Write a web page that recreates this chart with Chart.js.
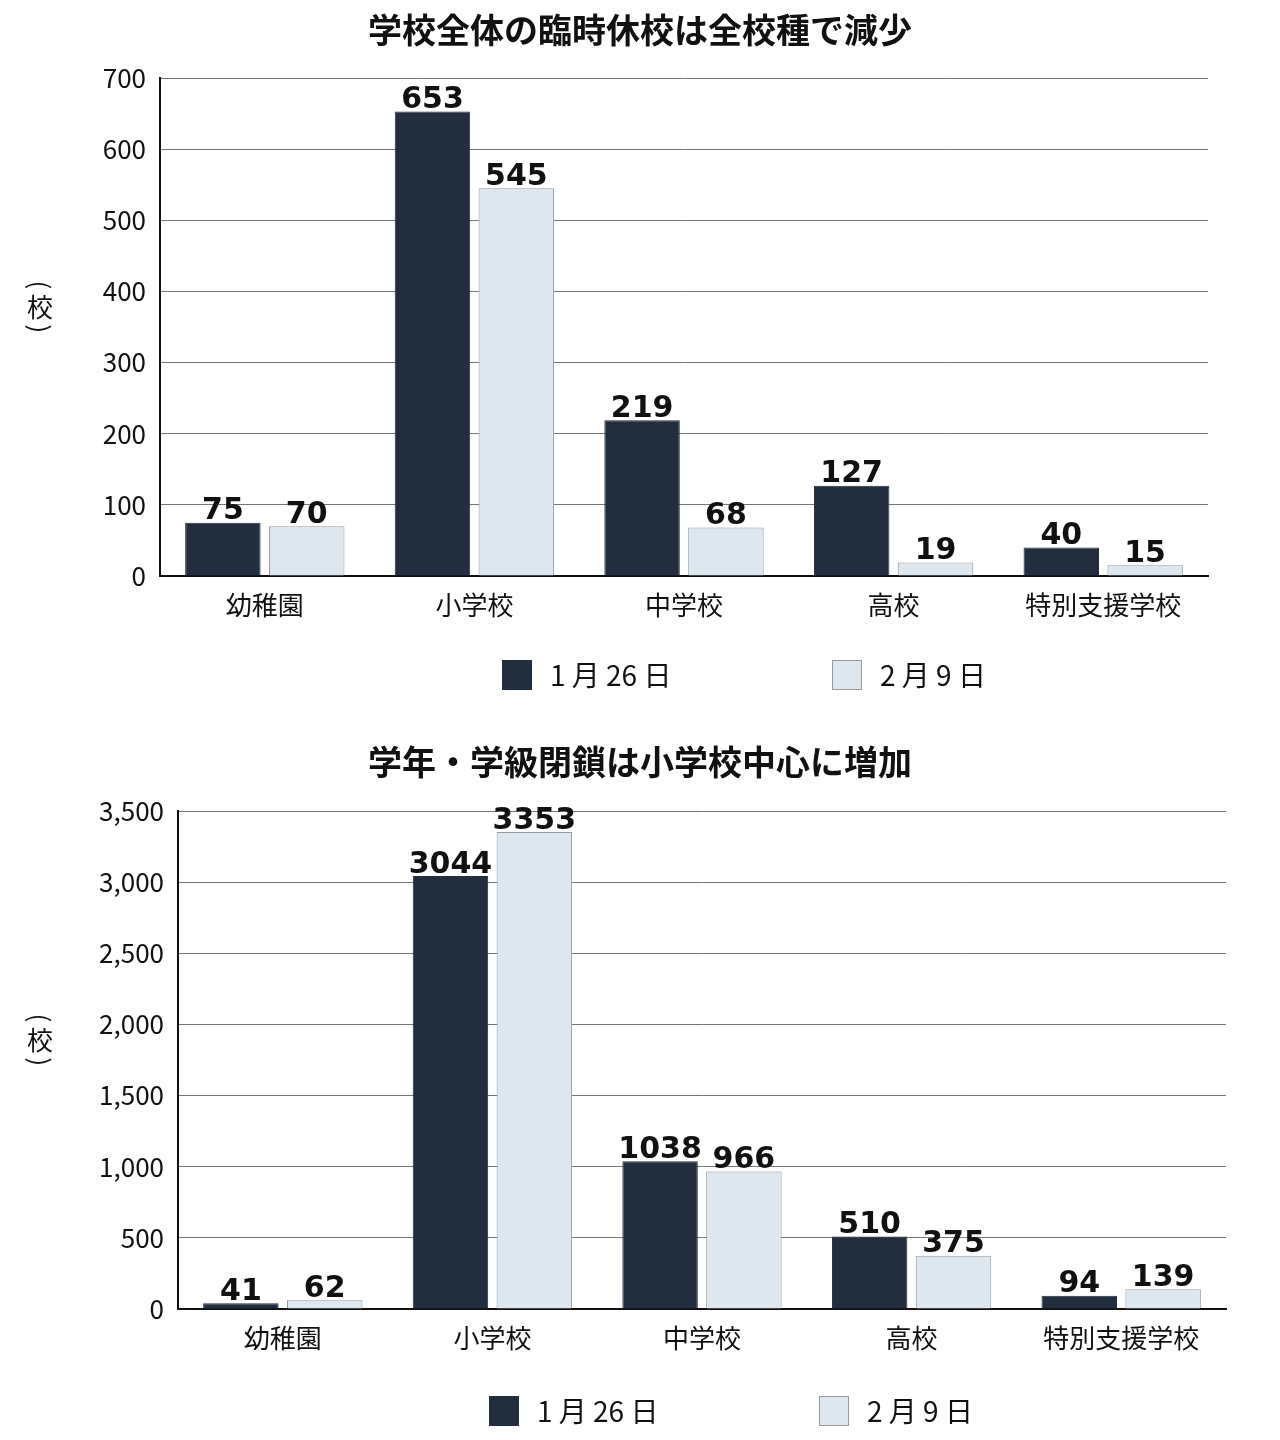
<!DOCTYPE html>
<html><head><meta charset="utf-8">
<script src="https://cdn.jsdelivr.net/npm/chart.js@4"></script>
<style>body{margin:0;background:#fff}canvas{display:block}</style>
</head><body>
<canvas id="c1" width="1280" height="720"></canvas>
<canvas id="c2" width="1280" height="720"></canvas>
<script>
const categories = ["幼稚園","小学校","中学校","高校","特別支援学校"];
const seriesNames = ["1 月 26 日","2 月 9 日"];
const closureJan26 = [75,653,219,127,40];
const closureFeb9 = [70,545,68,19,15];
const classJan26 = [41,3044,1038,510,94];
const classFeb9 = [62,3353,966,375,139];
const FONT = "'Noto Sans CJK JP','Noto Sans',sans-serif";
const DARK = "#222d3e", LIGHT = "#dde7f0";

function make(id, title, a, b, max, step, L) {
  const deco = {
    id:'deco',
    afterDraw(ch){
      const c = ch.ctx;
      c.save();
      c.fillStyle='#111';
      c.font = "bold 34px "+FONT; c.textAlign='center'; c.textBaseline='middle';
      c.fillText(title, 640, L.titleY);
      // y title
      c.save(); c.translate(40,(ch.chartArea.top+ch.chartArea.bottom)/2 - 20);
      c.font = "26px "+FONT;
      c.fillText("校",0,0);
      c.rotate(Math.PI/2); c.fillText("(",-22,0); c.fillText(")",22,0);
      c.restore();
      // data labels
      c.font = "bold 30px 'DejaVu Sans',sans-serif"; c.textBaseline='bottom';
      ch.data.datasets.forEach((ds,i)=>{
        ch.getDatasetMeta(i).data.forEach((bar,j)=>{
          c.fillText(String(ds.data[j]), bar.x, bar.y+4);
        });
      });
      // legend
      c.font = "28px "+FONT; c.textAlign='left'; c.textBaseline='middle';
      [[L.leg1,DARK],[L.leg2,LIGHT]].forEach(([x,col],i)=>{
        c.fillStyle=col; c.fillRect(x,L.legY-15,30,30);
        if(i==1){c.strokeStyle='#999';c.lineWidth=1;c.strokeRect(x+0.5,L.legY-14.5,29,29);}
        c.fillStyle='#111'; c.fillText(seriesNames[i], x+48, L.legY);
      });
      c.restore();
    }
  };
  new Chart(document.getElementById(id), {
    type:'bar',
    data:{labels:categories, datasets:[
      {label:seriesNames[0],data:a,backgroundColor:DARK,borderColor:DARK,borderWidth:1},
      {label:seriesNames[1],data:b,backgroundColor:LIGHT,borderColor:'#9a9a9a',borderWidth:1}
    ]},
    options:{
      responsive:false, animation:false, devicePixelRatio:1,
      categoryPercentage:0.8, barPercentage:0.9,
      layout:{padding:{top:L.top,right:1280-L.right,bottom:L.padB,left:0}},
      plugins:{legend:{display:false},title:{display:false},tooltip:{enabled:false}},
      scales:{
        x:{grid:{display:false,drawTicks:false},border:{color:'#111',width:2},
           ticks:{color:'#111',font:{size:26,family:FONT},padding:14},
           afterFit(s){s.height=L.xH;}},
        y:{min:0,max:max,grid:{color:'#777',lineWidth:1,drawTicks:false},
           border:{color:'#111',width:2},
           ticks:{stepSize:step,color:'#111',font:{size:26,family:FONT},padding:14},
           afterFit(s){s.width=L.left;}}
      }
    },
    plugins:[deco]
  });
}
make('c1',"学校全体の臨時休校は全校種で減少",closureJan26,closureFeb9,700,100,
  {titleY:30,top:78,left:160,right:1208,xH:60,padB:84,legY:675,leg1:502,leg2:832});
make('c2',"学年・学級閉鎖は小学校中心に増加",classJan26,classFeb9,3500,500,
  {titleY:42,top:91,left:178,right:1226,xH:60,padB:71,legY:691,leg1:489,leg2:819});
</script>
</body></html>
